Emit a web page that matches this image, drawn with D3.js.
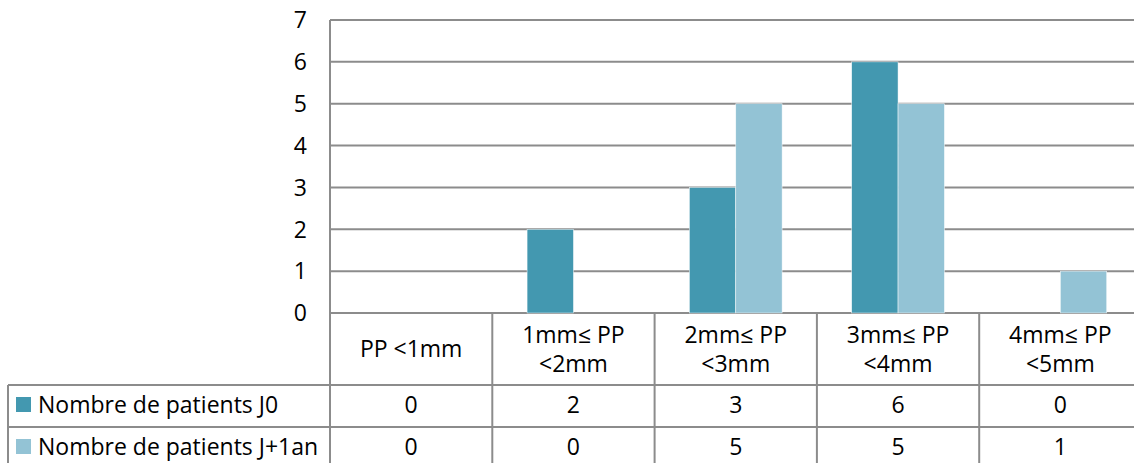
<!DOCTYPE html>
<html>
<head>
<meta charset="utf-8">
<script src="https://cdn.jsdelivr.net/npm/d3@7"></script>
<style>
  body { margin: 0; background: #fff; }
  svg { display: block; }
  text { font-family: "Open Sans", "Liberation Sans", sans-serif; fill: #000; }
</style>
</head>
<body>
<svg id="chart" width="1134" height="463"></svg>
<script>
// donnees
const categories = [["PP <1mm"], ["1mm\u2264 PP", "<2mm"], ["2mm\u2264 PP", "<3mm"], ["3mm\u2264 PP", "<4mm"], ["4mm\u2264 PP", "<5mm"]];
const series = ["Nombre de patients J0", "Nombre de patients J+1an"];
const valeursJ0 = [0, 2, 3, 6, 0];
const valeursJ1 = [0, 0, 5, 5, 1];
const yTicks = [0, 1, 2, 3, 4, 5, 6, 7];
const couleurs = ["#4398b0", "#93c3d5"];

const svg = d3.select("#chart");
const gris = "#8c8c8c";
const taille = 23;

const plotLeft = 330, plotRight = 1141.5, plotTop = 20, plotBottom = 313;
const tableLeft = 8;
const rowY = [313, 385, 427, 469];

const x = d3.scaleBand()
    .domain(d3.range(categories.length))
    .range([plotLeft, plotRight])
    .paddingInner(0)
    .paddingOuter(0);

const xs = d3.scaleBand()
    .domain(d3.range(series.length))
    .range([0, x.bandwidth()])
    .paddingInner(0)
    .paddingOuter(0.75);

const y = d3.scaleLinear()
    .domain([0, 7])
    .range([plotBottom, plotTop]);

// grille
svg.append("g")
    .selectAll("line")
    .data(yTicks)
    .join("line")
    .attr("x1", plotLeft)
    .attr("x2", plotRight)
    .attr("y1", d => y(d))
    .attr("y2", d => y(d))
    .attr("stroke", gris)
    .attr("stroke-width", 2);

// axe vertical
svg.append("line")
    .attr("x1", plotLeft).attr("x2", plotLeft)
    .attr("y1", plotTop).attr("y2", 463)
    .attr("stroke", gris).attr("stroke-width", 2);

svg.append("g")
    .selectAll("text")
    .data(yTicks)
    .join("text")
    .attr("x", 307)
    .attr("y", d => y(d))
    .attr("dy", "0.36em")
    .attr("text-anchor", "end")
    .attr("font-size", taille)
    .text(d => d);

// barres
const donnees = [valeursJ0, valeursJ1];
donnees.forEach((vals, s) => {
    svg.append("g")
        .selectAll("rect")
        .data(vals)
        .join("rect")
        .attr("x", (d, i) => x(i) + xs(s))
        .attr("width", xs.bandwidth())
        .attr("y", d => y(d))
        .attr("height", d => y(0) - y(d))
        .attr("fill", couleurs[s])
        .attr("stroke", "#fff")
        .attr("stroke-width", 0.6)
        .attr("stroke-opacity", d => d > 0 ? 0.8 : 0);
});

// tableau de donnees
const tab = svg.append("g");

// lignes horizontales
[rowY[1], rowY[2]].forEach(yy => {
    tab.append("line")
        .attr("x1", tableLeft).attr("x2", plotRight)
        .attr("y1", yy).attr("y2", yy)
        .attr("stroke", gris).attr("stroke-width", 2);
});
tab.append("line")
    .attr("x1", tableLeft).attr("x2", tableLeft)
    .attr("y1", rowY[1]).attr("y2", 463)
    .attr("stroke", gris).attr("stroke-width", 2);

// separateurs de categories
tab.selectAll("line.sep")
    .data(d3.range(1, categories.length))
    .join("line")
    .attr("class", "sep")
    .attr("x1", i => x(i)).attr("x2", i => x(i))
    .attr("y1", plotBottom).attr("y2", 463)
    .attr("stroke", gris).attr("stroke-width", 2);

// en-tetes
categories.forEach((lignes, i) => {
    const cx = x(i) + x.bandwidth() / 2;
    const mid = (rowY[0] + rowY[1]) / 2;
    const t = tab.append("text")
        .attr("text-anchor", "middle")
        .attr("font-size", taille);
    lignes.forEach((l, k) => {
        t.append("tspan")
            .attr("x", cx)
            .attr("y", mid + (k - (lignes.length - 1) / 2) * 29)
            .attr("dy", "0.36em")
            .text(l);
    });
});

// lignes de valeurs avec legende
donnees.forEach((vals, s) => {
    const mid = (rowY[s + 1] + rowY[s + 2]) / 2 - 1;
    tab.append("rect")
        .attr("x", 16).attr("y", mid - 8)
        .attr("width", 15).attr("height", 15)
        .attr("fill", couleurs[s]);
    tab.append("text")
        .attr("x", 38).attr("y", mid)
        .attr("dy", "0.36em")
        .attr("font-size", taille)
        .text(series[s]);
    tab.selectAll("text.v" + s)
        .data(vals)
        .join("text")
        .attr("class", "v" + s)
        .attr("x", (d, i) => x(i) + x.bandwidth() / 2)
        .attr("y", mid)
        .attr("dy", "0.36em")
        .attr("text-anchor", "middle")
        .attr("font-size", taille)
        .text(d => d);
});
</script>
</body>
</html>
